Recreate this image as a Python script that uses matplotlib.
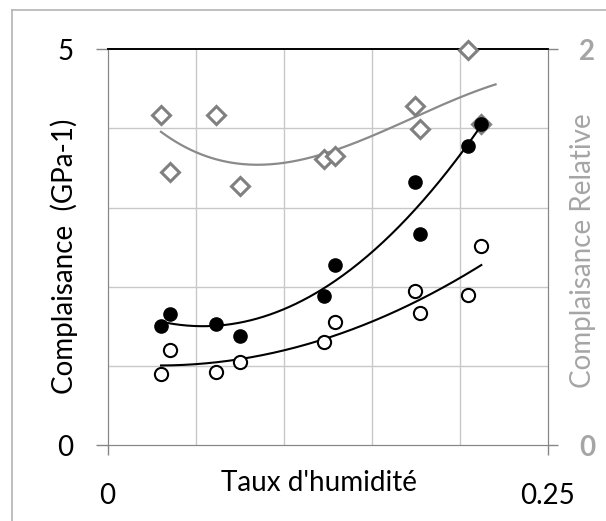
import numpy as np
import matplotlib
matplotlib.use("Agg")
import matplotlib.pyplot as plt
from matplotlib.lines import Line2D

plt.rcParams['font.family'] = ['Lato', 'DejaVu Sans']

# ---- data ----
humidity = [0.0304, 0.0353, 0.0617, 0.0755, 0.1228, 0.1291, 0.1748, 0.1777, 0.2047, 0.2124]
compl_filled = [1.50, 1.66, 1.53, 1.38, 1.88, 2.28, 3.32, 2.67, 3.78, 4.06]
compl_open = [0.90, 1.20, 0.92, 1.05, 1.30, 1.56, 1.94, 1.67, 1.89, 2.52]
compl_relative = [1.667, 1.382, 1.667, 1.308, 1.446, 1.463, 1.714, 1.596, 1.998, 1.620]
x_ticks = [0, 0.25]
x_tick_labels = ["0", "0.25"]
y_ticks = [0, 5]
y_tick_labels = ["0", "5"]
y2_ticks = [0, 2]
y2_tick_labels = ["0", "2"]
rel_forecast_end = 0.2205

W, H = 606, 521
fig = plt.figure(figsize=(W / 100, H / 100), dpi=100)
L, R, T, B = 107.5, 547.5, 49.3, 445.0
ax = fig.add_axes([L / W, 1 - B / H, (R - L) / W, (B - T) / H])
ax2 = ax.twinx()
ax2.set_zorder(ax.get_zorder() + 1)
ax2.patch.set_visible(False)

GRID = '#c8c8c8'
AXC = '#868686'
GRAYTXT = '#a5a5a5'
FS = 20

x = np.array(humidity)
ax.set_xlim(0, 0.25)
ax.set_ylim(0, 5)
ax2.set_ylim(0, 2)

# gridlines
for gx in [0.05, 0.10, 0.15, 0.20]:
    ax.axvline(gx, color=GRID, lw=1.0, zorder=0)
for gy in [1, 2, 3, 4]:
    ax.axhline(gy, color=GRID, lw=1.0, zorder=0)

# trendlines (polynomial)
xs = np.linspace(x.min(), x.max(), 200)
pf = np.polyfit(x, compl_filled, 2)
po = np.polyfit(x, compl_open, 2)
xr = np.linspace(x.min(), rel_forecast_end, 200)
pr = np.polyfit(x, compl_relative, 3)
ax2.plot(xr, np.polyval(pr, xr), color='#8a8a8a', lw=1.6, zorder=3)

# markers
ax2.plot(x, compl_relative, linestyle='none', marker='D', markersize=9.5,
         markerfacecolor='white', markeredgecolor='#808080', markeredgewidth=2.2,
         zorder=4, clip_on=False)
ax2.plot(xs, np.polyval(pf, xs), color='black', lw=1.5, zorder=5, transform=ax.transData)
ax2.plot(xs, np.polyval(po, xs), color='black', lw=1.5, zorder=5, transform=ax.transData)
ax2.plot(x, compl_filled, linestyle='none', marker='o', markersize=9.5,
         markerfacecolor='black', markeredgecolor='black', zorder=6,
         transform=ax.transData)
ax2.plot(x, compl_open, linestyle='none', marker='o', markersize=9.5,
         markerfacecolor='white', markeredgecolor='black', markeredgewidth=1.5, zorder=6,
         transform=ax.transData)

# spines
for s in ['left', 'bottom', 'right']:
    ax.spines[s].set_color(AXC)
    ax2.spines[s].set_color(AXC)
ax.spines['top'].set_color('black')
ax2.spines['top'].set_color('black')
ax.spines['top'].set_linewidth(1.2)
ax2.spines['top'].set_linewidth(1.2)

ax.set_xticks(x_ticks)
ax.set_xticklabels(x_tick_labels)
ax.set_yticks(y_ticks)
ax.set_yticklabels(y_tick_labels)
ax2.set_yticks(y2_ticks)
ax2.set_yticklabels(y2_tick_labels, fontweight='bold', color=GRAYTXT)

ax.tick_params(axis='x', direction='out', length=7.5, width=1, color=AXC,
               labelsize=FS, pad=20)
ax.tick_params(axis='y', direction='out', length=8.6, width=1, color=AXC,
               labelsize=FS, pad=16)
ax2.tick_params(axis='y', direction='out', length=7.5, width=1, color=AXC,
                labelsize=FS, pad=15, labelcolor=GRAYTXT)

# axis titles
fig.text(64 / W, 1 - 256 / H, "Complaisance  (GPa-1)", rotation=90,
         ha='center', va='center', fontsize=FS)
fig.text(583 / W, 1 - 251 / H, "Complaisance Relative", rotation=90,
         ha='center', va='center', fontsize=FS, color=GRAYTXT)
fig.text(319 / W, 1 - 483 / H, "Taux d'humidité", ha='center', va='center',
         fontsize=FS)

# chart border
fig.add_artist(Line2D([12 / W, 12 / W], [0, 1 - 10 / H], color='#b4b4b4', lw=1.2))
fig.add_artist(Line2D([12 / W, 1], [1 - 10 / H, 1 - 10 / H], color='#b4b4b4', lw=1.2))

fig.savefig("out.png", dpi=100)
